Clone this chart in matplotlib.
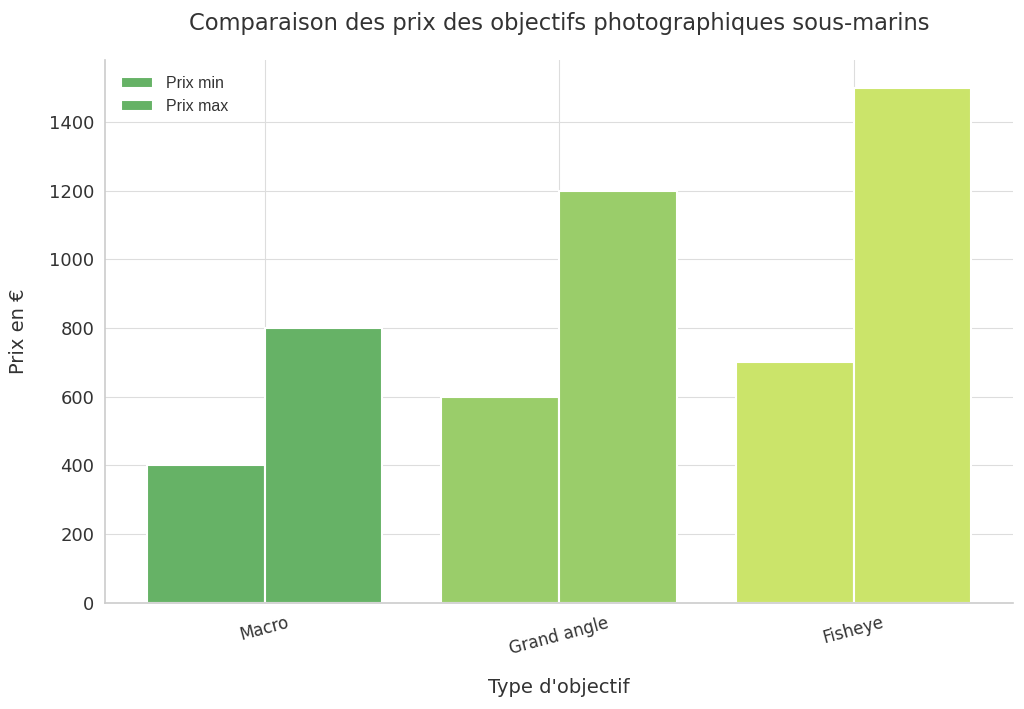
import numpy as np
import matplotlib
matplotlib.use("Agg")
import matplotlib.pyplot as plt

types = ["Macro", "Grand angle", "Fisheye"]
prix_min = [400, 600, 700]
prix_max = [800, 1200, 1500]
couleurs = ["#66b266", "#9acd6a", "#cbe46a"]

x = np.arange(len(types))
w = 0.4

fig, ax = plt.subplots(figsize=(10.24, 7.09), dpi=100)

b1 = ax.bar(x - w / 2, prix_min, w, color=couleurs, edgecolor="white", linewidth=1.5, label="Prix min")
b2 = ax.bar(x + w / 2, prix_max, w, color=couleurs, edgecolor="white", linewidth=1.5, label="Prix max")

ax.set_title("Comparaison des prix des objectifs photographiques sous-marins",
             fontsize=16.3, color="#333333", pad=22)
ax.set_xlabel("Type d'objectif", fontsize=14, color="#333333", labelpad=15)
ax.set_ylabel("Prix en €", fontsize=14, color="#333333", labelpad=15)

ax.set_xticks(x)
ax.set_xticklabels(types, rotation=15, fontsize=12, color="#333333")
ax.tick_params(axis="y", labelsize=13, colors="#333333")
ax.tick_params(length=0, pad=8)
ax.set_xlim(-0.54, 2.54)
ax.set_ylim(0, 1580)

ax.grid(True, color="#dddddd", linewidth=0.8)
ax.set_axisbelow(True)
for s in ["top", "right"]:
    ax.spines[s].set_visible(False)
for s in ["left", "bottom"]:
    ax.spines[s].set_color("#cccccc")
    ax.spines[s].set_linewidth(1.2)

leg = ax.legend(loc="upper left", frameon=False, borderaxespad=0.6,
                prop={"family": "Liberation Sans", "size": 11.5})
for t in leg.get_texts():
    t.set_color("#333333")

plt.subplots_adjust(left=0.103, right=0.989, top=0.915, bottom=0.15)
plt.savefig("out.png", dpi=100)
